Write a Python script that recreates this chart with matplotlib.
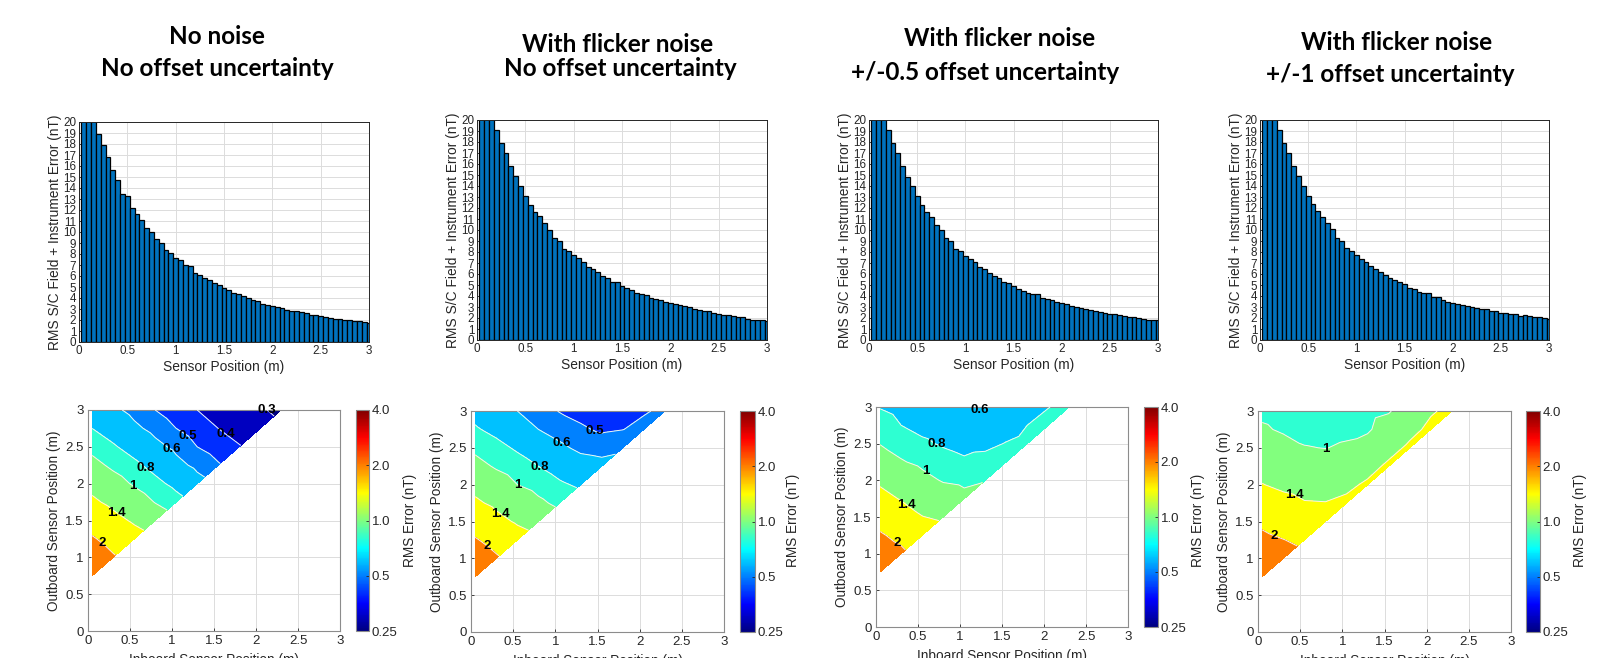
import numpy as np
import matplotlib
matplotlib.use("Agg")
import matplotlib.pyplot as plt
import matplotlib.tri as mtri
from matplotlib.colors import LogNorm, LinearSegmentedColormap
from matplotlib.cm import ScalarMappable

plt.rcParams['font.family'] = ['Liberation Sans', 'DejaVu Sans']

# ---------------- data ----------------
titles = [
    ("No noise", "No offset uncertainty"),
    ("With flicker noise", "No offset uncertainty"),
    ("With flicker noise", "+/-0.5 offset uncertainty"),
    ("With flicker noise", "+/-1 offset uncertainty"),
]

# sensor positions for the bar charts (m)
sensor_pos = [round(0.05 * i, 2) for i in range(1, 61)]

# RMS S/C field + instrument error (nT), first three bars run off the top
rms_bar_1 = [30, 25, 21, 18.9, 17.9, 16.8, 15.6, 14.7, 13.5, 13.3,
             12.2, 11.6, 11.1, 10.4, 10.0, 9.4, 9.0, 8.4, 8.1, 7.6,
             7.5, 7.0, 6.9, 6.3, 6.1, 5.8, 5.6, 5.4, 5.2, 4.9,
             4.7, 4.5, 4.4, 4.2, 4.0, 3.8, 3.7, 3.5, 3.4, 3.3,
             3.2, 3.1, 2.9, 2.8, 2.8, 2.7, 2.6, 2.5, 2.5, 2.4,
             2.3, 2.2, 2.1, 2.1, 2.0, 2.0, 1.9, 1.9, 1.8, 1.7]
rms_bar_2 = [30, 25, 21, 19.1, 17.9, 17.0, 15.8, 14.9, 14.0, 13.1,
             12.3, 11.6, 11.3, 10.6, 10.0, 9.3, 9.0, 8.3, 8.1, 7.7,
             7.45, 7.1, 6.67, 6.45, 6.15, 5.85, 5.6, 5.3, 5.25, 4.95,
             4.7, 4.55, 4.3, 4.15, 4.05, 3.85, 3.7, 3.6, 3.5, 3.4,
             3.3, 3.2, 3.05, 3.0, 2.85, 2.7, 2.65, 2.6, 2.5, 2.35,
             2.3, 2.25, 2.15, 2.1, 2.05, 1.95, 1.85, 1.8, 1.8, 1.7]
rms_bar_3 = [30, 25, 21, 19.1, 17.9, 17.0, 15.8, 14.85, 14.0, 13.1,
             12.3, 11.6, 11.2, 10.5, 10.0, 9.25, 9.0, 8.25, 8.1, 7.65,
             7.4, 7.05, 6.65, 6.45, 6.1, 5.8, 5.6, 5.25, 5.2, 4.95,
             4.65, 4.5, 4.3, 4.2, 4.15, 3.85, 3.75, 3.6, 3.45, 3.4,
             3.25, 3.1, 3.0, 2.95, 2.8, 2.7, 2.65, 2.55, 2.5, 2.35,
             2.35, 2.25, 2.15, 2.1, 2.1, 2.0, 1.9, 1.85, 1.8, 1.8]
rms_bar_4 = [30, 25, 21, 19.1, 17.9, 17.0, 15.8, 14.9, 14.0, 13.1,
             12.4, 11.7, 11.2, 10.6, 10.1, 9.3, 9.0, 8.35, 8.1, 7.7,
             7.4, 7.1, 6.7, 6.5, 6.15, 5.9, 5.65, 5.45, 5.3, 5.05,
             4.75, 4.6, 4.4, 4.3, 4.25, 3.95, 3.9, 3.65, 3.5, 3.4,
             3.3, 3.15, 3.05, 3.0, 2.9, 2.8, 2.8, 2.65, 2.65, 2.5,
             2.5, 2.4, 2.35, 2.2, 2.25, 2.2, 2.1, 2.05, 2.0, 1.95]
bar_sets = [rms_bar_1, rms_bar_2, rms_bar_3, rms_bar_4]

# contour grids: inboard positions (columns) and outboard positions (rows, top down)
inboard_grid = [0.05, 0.30, 0.55, 0.80, 1.05, 1.30, 1.55, 1.80, 2.05, 2.30]
outboard_grid = [3.0, 2.75, 2.5, 2.25, 2.0, 1.75, 1.5, 1.25, 1.0, 0.75]

rms_map_1 = [
    [0.71, 0.63, 0.56, 0.50, 0.45, 0.40, 0.37, 0.34, 0.31, 0.28],
    [0.80, 0.72, 0.63, 0.56, 0.50, 0.45, 0.40, 0.37, 0.34],
    [0.93, 0.82, 0.73, 0.64, 0.57, 0.50, 0.455, 0.405],
    [1.08, 0.95, 0.84, 0.74, 0.64, 0.57, 0.51],
    [1.26, 1.11, 0.97, 0.85, 0.75, 0.65],
    [1.48, 1.29, 1.14, 0.99, 0.87],
    [1.77, 1.54, 1.34, 1.17],
    [2.05, 1.82, 1.60],
    [2.30, 2.05],
    [2.50],
]
rms_map_2 = [
    [0.74, 0.66, 0.60, 0.55, 0.495, 0.47, 0.46, 0.47, 0.49, 0.52],
    [0.82, 0.75, 0.67, 0.60, 0.556, 0.515, 0.485, 0.498, 0.53],
    [0.944, 0.856, 0.774, 0.698, 0.624, 0.575, 0.56, 0.58],
    [1.09, 0.97, 0.88, 0.80, 0.72, 0.656, 0.638],
    [1.27, 1.14, 1.00, 0.916, 0.828, 0.77],
    [1.47, 1.31, 1.18, 1.05, 0.944],
    [1.76, 1.53, 1.35, 1.22],
    [2.04, 1.82, 1.60],
    [2.30, 2.06],
    [2.50],
]
rms_map_3 = [
    [0.79, 0.74, 0.70, 0.67, 0.63, 0.63, 0.65, 0.70, 0.795, 0.85],
    [0.89, 0.80, 0.75, 0.72, 0.67, 0.67, 0.71, 0.80, 0.86],
    [0.99, 0.906, 0.83, 0.78, 0.74, 0.75, 0.81, 0.86],
    [1.16, 1.02, 0.945, 0.874, 0.83, 0.87, 0.90],
    [1.32, 1.20, 1.08, 0.98, 0.95, 0.99],
    [1.55, 1.37, 1.25, 1.15, 1.07],
    [1.81, 1.62, 1.41, 1.35],
    [2.05, 1.87, 1.60],
    [2.25, 2.10],
    [2.50],
]
rms_map_4 = [
    [0.95, 0.92, 0.90, 0.90, 0.92, 0.93, 0.98, 1.14, 1.37, 1.47],
    [1.03, 0.97, 0.94, 0.93, 0.95, 0.97, 1.12, 1.31, 1.47],
    [1.16, 1.09, 1.01, 0.995, 1.03, 1.10, 1.29, 1.46],
    [1.28, 1.21, 1.14, 1.13, 1.18, 1.29, 1.46],
    [1.41, 1.33, 1.28, 1.27, 1.33, 1.45],
    [1.66, 1.51, 1.42, 1.41, 1.47],
    [1.90, 1.76, 1.66, 1.62],
    [2.12, 2.01, 1.90],
    [2.30, 2.20],
    [2.60],
]
map_sets = [rms_map_1, rms_map_2, rms_map_3, rms_map_4]

contour_levels = [0.3, 0.4, 0.5, 0.6, 0.8, 1, 1.4, 2]
fill_levels = [0.2, 0.3, 0.4, 0.5, 0.6, 0.8, 1, 1.4, 2, 4]
cbar_ticks = [0.25, 0.5, 1.0, 2.0, 4.0]

# label spots for the contour labels
label_spots = [
    [(0.16, 1.19), (0.34, 1.60), (0.54, 1.98), (0.67, 2.20), (0.99, 2.46),
     (1.19, 2.65), (1.66, 2.71), (1.99, 2.98)],
    [(0.20, 1.19), (0.34, 1.59), (0.55, 1.97), (0.79, 2.20), (1.07, 2.55),
     (1.48, 2.75)],
    [(0.25, 1.14), (0.34, 1.62), (0.57, 2.09), (0.70, 2.44)],
    [(0.18, 1.28), (0.40, 1.79), (0.80, 2.48)],
]

# ---------------- layout (pixels) ----------------
W, H = 1617, 658
top_boxes = [(79, 122, 369, 342), (477, 120, 767, 340),
             (869, 120, 1158, 340), (1260, 120, 1549, 340)]
bot_boxes = [(88, 410, 340, 631), (471, 411, 724, 632),
             (876, 407, 1128, 627), (1258, 411, 1511, 632)]
cb_boxes = [(356, 410, 369, 631), (740, 411, 755, 632),
            (1144, 407, 1158, 627), (1526, 411, 1540, 632)]
cb_label_x = [410, 793, 1198, 1580]
title_pos = [((217, 36), (217, 69)), ((618, 44), (620, 69)),
             ((1000, 39), (985, 72)), ((1397, 43), (1390, 75))]


def rect(box):
    x0, y0, x1, y1 = box
    return [x0 / W, 1 - y1 / H, (x1 - x0) / W, (y1 - y0) / H]


fig = plt.figure(figsize=(W / 100, H / 100), dpi=100)
fig.patch.set_facecolor('white')

# MATLAB style jet
cmap = LinearSegmentedColormap.from_list('mjet', [
    (0.0, (0, 0, 0.5)), (1 / 8, (0, 0, 1)), (3 / 8, (0, 1, 1)),
    (5 / 8, (1, 1, 0)), (7 / 8, (1, 0, 0)), (1.0, (0.5, 0, 0))], N=256)
norm = LogNorm(vmin=0.25, vmax=4)
fill_colors = [cmap(norm(max(l, 0.25))) for l in fill_levels[:-1]]
dark = '#262626'
grid_c = '#dcdcdc'

for i in range(4):
    # titles
    (tx1, ty1), (tx2, ty2) = title_pos[i]
    fig.text(tx1 / W, 1 - ty1 / H, titles[i][0], ha='center', va='center',
             fontsize=17.5, fontweight='bold', family='Lato')
    fig.text(tx2 / W, 1 - ty2 / H, titles[i][1], ha='center', va='center',
             fontsize=17.5, fontweight='bold', family='Lato')

    # bar chart
    ax = fig.add_axes(rect(top_boxes[i]))
    ax.bar(sensor_pos, bar_sets[i], width=0.05, color='#0072BD',
           edgecolor='black', linewidth=0.9, zorder=2)
    ax.set_xlim(0, 3)
    ax.set_ylim(0, 20)
    ax.set_xticks([0, 0.5, 1, 1.5, 2, 2.5, 3])
    ax.set_xticklabels(['0', '0.5', '1', '1.5', '2', '2.5', '3'])
    ax.set_yticks(range(0, 21))
    ax.grid(True, color=grid_c, linewidth=0.7, zorder=0)
    ax.set_axisbelow(True)
    ax.tick_params(direction='in', length=2.5, labelsize=8.4, colors=dark,
                   pad=2, width=0.6)
    for s in ax.spines.values():
        s.set_color(dark)
        s.set_linewidth(0.7)
    ax.set_xlabel('Sensor Position (m)', fontsize=9.9, color=dark, labelpad=2)
    ax.set_ylabel('RMS S/C Field + Instrument Error (nT)', fontsize=9.9,
                  color=dark, labelpad=1)

    # contour map
    ax2 = fig.add_axes(rect(bot_boxes[i]))
    xs, ys, zs = [], [], []
    for j, row in enumerate(map_sets[i]):
        for k, v in enumerate(row):
            xs.append(inboard_grid[k])
            ys.append(outboard_grid[j])
            zs.append(v)
    tri = mtri.Triangulation(xs, ys)
    ax2.tricontourf(tri, zs, levels=fill_levels, colors=fill_colors, zorder=2)
    present = [lv for lv in contour_levels if min(zs) < lv < max(zs)]
    cs = ax2.tricontour(tri, zs, levels=present, colors='#f4f4f4',
                        linewidths=0.7, zorder=3)
    labs = ax2.clabel(cs, inline=False, fontsize=9.5, fmt='%g',
                      colors='black', manual=label_spots[i])
    for t in labs:
        t.set_rotation(0)
        t.set_fontweight('bold')
        t.set_zorder(5)
        t.set_clip_on(False)
    if i == 2:
        ax2.text(1.24, 2.96, '0.6', ha='center', va='center', fontsize=9.5,
                 fontweight='bold', color='black', zorder=5)
    ax2.set_xlim(0, 3)
    ax2.set_ylim(0, 3)
    ticks = [0, 0.5, 1, 1.5, 2, 2.5, 3]
    tlabels = ['0', '0.5', '1', '1.5', '2', '2.5', '3']
    ax2.set_xticks(ticks)
    ax2.set_xticklabels(tlabels)
    ax2.set_yticks(ticks)
    ax2.set_yticklabels(tlabels)
    ax2.grid(True, color=grid_c, linewidth=0.7, zorder=0)
    ax2.set_axisbelow(True)
    ax2.tick_params(direction='in', length=2.5, labelsize=9.5, colors=dark,
                    pad=3, width=0.6)
    for s in ax2.spines.values():
        s.set_color('#8c8c8c')
        s.set_linewidth(0.8)
    ax2.set_ylabel('Outboard Sensor Position (m)', fontsize=9.8, color=dark,
                   labelpad=3)
    ax2.set_xlabel('Inboard Sensor Position (m)', fontsize=9.8, color=dark,
                   labelpad=4)

    # colorbar
    cax = fig.add_axes(rect(cb_boxes[i]))
    sm = ScalarMappable(norm=norm, cmap=cmap)
    cb = fig.colorbar(sm, cax=cax)
    cb.set_ticks(cbar_ticks)
    cb.set_ticklabels(['0.25', '0.5', '1.0', '2.0', '4.0'])
    cb.minorticks_off()
    cb.outline.set_edgecolor('#8c8c8c')
    cb.outline.set_linewidth(0.8)
    cax.tick_params(labelsize=9.5, colors=dark, direction='in', length=2.5,
                    width=0.6, pad=2)
    fig.text(cb_label_x[i] / W, 1 - 520 / H, 'RMS Error (nT)', rotation=90,
             ha='center', va='center', fontsize=9.8, color=dark)

fig.savefig('out.png', dpi=100)
